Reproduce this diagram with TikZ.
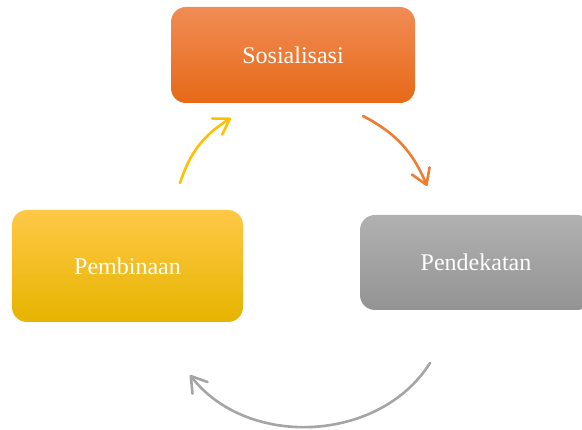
\documentclass[tikz,border=0pt]{standalone}
\usepackage{fontspec}
\setmainfont{Liberation Serif}
\usetikzlibrary{arrows.meta}
\begin{document}
\begin{tikzpicture}[x=1pt,y=-1pt,
  box/.style={rounded corners=15pt, text=white, font=\fontsize{24}{29}\selectfont},
  orangebox/.style={box, top color=orange1, middle color=orange2, bottom color=orange3},
  graybox/.style={box, top color=gray1, middle color=gray2, bottom color=gray3},
  yellowbox/.style={box, top color=yellow1, middle color=yellow2, bottom color=yellow3},
  link/.style={line width=2.6pt, line cap=round, -{Straight Barb[length=15pt,width=19pt,round]}}]
\definecolor{orange1}{HTML}{F18C55}
\definecolor{orange2}{HTML}{F47A26}
\definecolor{orange3}{HTML}{E66917}
\definecolor{gray1}{HTML}{B1B1B1}
\definecolor{gray2}{HTML}{A5A5A5}
\definecolor{gray3}{HTML}{939393}
\definecolor{yellow1}{HTML}{FFC846}
\definecolor{yellow2}{HTML}{FFC400}
\definecolor{yellow3}{HTML}{E6B400}
\definecolor{arrowyellow}{HTML}{FFC000}
\definecolor{arroworange}{HTML}{ED7D31}
\definecolor{arrowgray}{HTML}{A5A5A5}
\useasboundingbox (0,0) rectangle (582,430);
% the three steps
\node[orangebox, minimum width=244pt, minimum height=96pt] (sos) at (293,55) {Sosialisasi};
\node[graybox, minimum width=232pt, minimum height=95pt] (pen) at (476,262.5) {Pendekatan};
\node[yellowbox, minimum width=231pt, minimum height=112pt] (pem) at (127.5,266) {Pembinaan};
% cycle arrows
\coordinate (sosout) at (363,116);
\coordinate (penin) at (427,186);
\coordinate (penout) at (430,363);
\coordinate (pemin) at (190,375);
\coordinate (pemout) at (180,183);
\coordinate (sosin) at (231,118);
\draw[link, arroworange] (sosout) to[bend left=20] (penin);
\draw[link, arrowgray] (penout) to[bend left=55] (pemin);
\draw[link, arrowyellow] (pemout) to[bend left=20] (sosin);
\end{tikzpicture}
\end{document}
